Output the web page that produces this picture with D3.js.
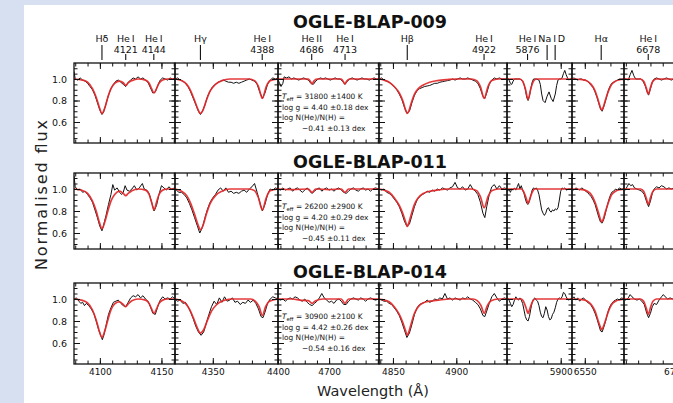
<!DOCTYPE html>
<html>
<head>
<meta charset="utf-8">
<script src="https://cdn.jsdelivr.net/npm/d3@7"></script>
<style>
  html, body { margin: 0; padding: 0; background: #d6e0f1; }
  svg { display: block; }
</style>
</head>
<body>
<svg id="chart" width="673" height="403"></svg>
<script>
// Wavelength window (Å) of each of the seven spectral panels
const windows = [[4079, 4161], [4321, 4400], [4658, 4741], [4839, 4940], [5860.5, 5908.3], [6540, 6580.6], [6658.5, 6720.3]];
// Labelled wavelength ticks in each panel
const majorTicks = [[4100, 4150], [4350, 4400], [4700], [4850, 4900], [5900], [6550], [6700]];
const stars = ["OGLE-BLAP-009", "OGLE-BLAP-011", "OGLE-BLAP-014"];
const teffText = ["31800 \u00b11400 K", "26200 \u00b12900 K", "30900 \u00b12100 K"];
const loggText = ["4.40 \u00b10.18 dex", "4.20 \u00b10.29 dex", "4.42 \u00b10.26 dex"];
const heText = ["\u22120.41 \u00b10.13 dex", "\u22120.45 \u00b10.11 dex", "\u22120.54 \u00b10.16 dex"];
// Identified lines: label, rest wavelength(s), panel, long marker for hydrogen / Na
const lineIds = [
  { name: "H\u03b4", wl: [4101.7], col: 0, long: true },
  { name: "He\u2009I", num: "4121", wl: [4121.0], col: 0 },
  { name: "He\u2009I", num: "4144", wl: [4143.8], col: 0 },
  { name: "H\u03b3", wl: [4340.5], col: 1, long: true },
  { name: "He\u2009I", num: "4388", wl: [4387.9], col: 1 },
  { name: "He\u2009II", num: "4686", wl: [4685.7], col: 2 },
  { name: "He\u2009I", num: "4713", wl: [4713.1], col: 2 },
  { name: "H\u03b2", wl: [4861.3], col: 3, long: true },
  { name: "He\u2009I", num: "4922", wl: [4921.9], col: 3 },
  { name: "He\u2009I", num: "5876", wl: [5875.6], col: 4 },
  { name: "Na\u2009I\u2009D", wl: [5890.0, 5895.9], col: 4, long: true, labelWl: 5893.4 },
  { name: "H\u03b1", wl: [6562.8], col: 5, long: true },
  { name: "He\u2009I", num: "6678", wl: [6678.2], col: 6 }
];

// Observed (black) and model (red) normalised flux, [wavelength, flux] per panel
const obs009 = [
  [[4079,1.07],[4080,1.00],[4082,0.99],[4084,1.01],[4086,0.99],[4088,0.98],[4090,0.96],[4092,0.93],[4094,0.90],[4096,0.85],[4098,0.78],[4100,0.71],[4101.7,0.67],[4103,0.69],[4105,0.77],[4107,0.85],[4109,0.91],[4111,0.95],[4113,0.98],[4115,0.99],[4117,0.97],[4119,0.95],[4121,0.93],[4123,0.97],[4125,0.99],[4127,1.01],[4129,1.00],[4131,1.02],[4133,1.00],[4135,1.01],[4137,0.99],[4139,0.97],[4141,0.92],[4143,0.87],[4145,0.88],[4147,0.94],[4149,0.99],[4151,1.01],[4153,1.00],[4155,0.99],[4157,1.01],[4159,1.00],[4161,1.01]],
  [[4321,1.00],[4323,1.01],[4325,0.99],[4327,0.98],[4329,0.96],[4331,0.93],[4333,0.88],[4335,0.82],[4337,0.76],[4339,0.70],[4340.5,0.67],[4342,0.70],[4344,0.76],[4346,0.84],[4348,0.89],[4350,0.93],[4352,0.95],[4354,0.97],[4356,0.98],[4358,0.99],[4360,0.98],[4362,0.97],[4364,0.97],[4366,0.96],[4368,0.97],[4370,0.96],[4372,0.97],[4374,0.98],[4376,0.99],[4378,1.00],[4380,0.99],[4382,0.98],[4384,0.95],[4386,0.88],[4388,0.82],[4390,0.87],[4392,0.95],[4394,0.99],[4396,1.01],[4398,1.00],[4400,1.01]],
  [[4658,0.99],[4659,0.97],[4660.5,0.93],[4662,0.96],[4663,1.02],[4665,1.01],[4667,1.02],[4669,1.00],[4671,1.01],[4673,1.00],[4675,0.99],[4677,1.00],[4679,1.01],[4681,1.00],[4683,0.99],[4685,0.96],[4687,0.95],[4689,0.98],[4691,1.00],[4693,1.01],[4695,1.00],[4697,1.01],[4699,1.00],[4701,0.99],[4703,1.00],[4705,1.01],[4707,1.00],[4709,1.00],[4711,0.98],[4713,0.95],[4715,0.98],[4717,1.00],[4719,1.01],[4721,1.00],[4723,0.99],[4725,1.00],[4727,1.01],[4729,1.00],[4731,1.00],[4733,0.99],[4735,1.00],[4737,1.01],[4739,1.00],[4741,1.00]],
  [[4839,1.00],[4841,1.01],[4843,0.99],[4845,0.98],[4847,0.97],[4849,0.95],[4851,0.93],[4853,0.90],[4855,0.86],[4857,0.81],[4859,0.74],[4861,0.68],[4863,0.70],[4865,0.78],[4867,0.85],[4869,0.89],[4871,0.91],[4873,0.92],[4875,0.93],[4877,0.935],[4879,0.94],[4881,0.95],[4883,0.96],[4885,0.96],[4887,0.97],[4889,0.975],[4891,0.98],[4893,0.985],[4895,0.99],[4897,1.00],[4899,0.99],[4901,1.00],[4903,1.01],[4905,1.00],[4907,1.00],[4909,1.01],[4911,1.00],[4913,0.99],[4915,0.98],[4917,0.96],[4919,0.91],[4921,0.84],[4922.5,0.82],[4924,0.87],[4926,0.95],[4928,0.99],[4930,1.01],[4932,1.00],[4934,1.01],[4936,1.00],[4938,1.00],[4940,1.00]],
  [[5860,1.00],[5861,1.01],[5862,0.99],[5863,0.96],[5864,0.95],[5865,0.98],[5866,1.00],[5868,1.00],[5870,1.00],[5872,0.98],[5873,0.95],[5874,0.90],[5875,0.83],[5876,0.80],[5877,0.84],[5878,0.91],[5879,0.97],[5880,1.00],[5882,1.00],[5884,0.99],[5885,0.95],[5886,0.86],[5887,0.80],[5888.5,0.78],[5890,0.84],[5891.4,0.88],[5893,0.82],[5894.4,0.79],[5896,0.86],[5897,0.94],[5898,0.99],[5899,1.00],[5900,1.00],[5901,1.01],[5902,1.05],[5903,1.08],[5904,1.04],[5905,1.01],[5906,0.99],[5907,1.00],[5909,1.00]],
  [[6540,1.00],[6541.5,1.01],[6543,1.00],[6544.5,0.99],[6546,1.00],[6547.5,1.00],[6549,0.99],[6550.5,0.99],[6552,0.98],[6553.5,0.96],[6555,0.94],[6556.5,0.92],[6558,0.88],[6559.5,0.83],[6561,0.77],[6562.3,0.72],[6563.5,0.70],[6565,0.75],[6566.5,0.81],[6568,0.88],[6569.5,0.93],[6571,0.96],[6572.5,0.97],[6574,0.98],[6575.5,0.99],[6577,1.00],[6578.5,1.00],[6581,1.00]],
  [[6658,1.00],[6660,1.00],[6662,0.99],[6663.5,1.04],[6665,1.08],[6666.5,1.03],[6668,1.00],[6670,1.00],[6672,1.00],[6674,0.98],[6676,0.93],[6677.3,0.88],[6678.5,0.85],[6680,0.91],[6681.5,0.97],[6683,1.00],[6685,1.01],[6687,1.00],[6689,0.99],[6691,1.00],[6693,1.01],[6695,1.00],[6697,0.99],[6699,1.00],[6701,1.00],[6703,1.00],[6705,1.00]]
];
const model009 = [
  [[4079,1.00],[4086,0.99],[4090,0.97],[4094,0.91],[4097,0.83],[4099.5,0.74],[4101.7,0.68],[4104,0.73],[4106.5,0.83],[4109,0.91],[4112,0.96],[4116,0.98],[4119,0.965],[4121,0.94],[4123,0.965],[4126,0.985],[4131,1.00],[4137,0.99],[4140,0.96],[4142,0.91],[4144,0.87],[4146,0.91],[4148,0.96],[4151,0.99],[4155,1.00],[4161,1.00]],
  [[4321,1.00],[4326,0.985],[4330,0.95],[4333,0.89],[4336,0.80],[4338.5,0.72],[4340.5,0.68],[4342.5,0.71],[4345,0.80],[4348,0.89],[4352,0.95],[4357,0.985],[4363,1.00],[4378,1.00],[4382,0.985],[4385,0.93],[4388,0.82],[4391,0.93],[4394,0.985],[4400,1.00]],
  [[4658,1.00],[4683,1.00],[4684.5,0.98],[4686,0.955],[4687.5,0.98],[4690,1.00],[4710,1.00],[4711.5,0.98],[4713,0.955],[4714.5,0.98],[4717,1.00],[4741,1.00]],
  [[4839,1.00],[4843,0.99],[4847,0.97],[4851,0.93],[4855,0.87],[4858,0.79],[4860,0.71],[4861.3,0.68],[4862.5,0.70],[4864.5,0.78],[4867,0.86],[4870,0.91],[4874,0.945],[4879,0.97],[4885,0.985],[4893,0.995],[4900,1.00],[4912,1.00],[4916,0.985],[4919,0.93],[4922,0.82],[4925,0.93],[4928,0.985],[4933,1.00],[4940,1.00]],
  [[5860,1.00],[5870,1.00],[5872,0.98],[5874,0.91],[5876,0.81],[5878,0.91],[5880,0.98],[5882,1.00],[5909,1.00]],
  [[6540,1.00],[6548,0.995],[6552,0.98],[6555,0.95],[6558,0.89],[6560.5,0.80],[6562,0.74],[6563.2,0.71],[6564.5,0.74],[6566,0.80],[6568.5,0.89],[6571,0.95],[6574,0.98],[6578,0.995],[6581,1.00]],
  [[6658,1.00],[6672,1.00],[6674.5,0.98],[6676.5,0.92],[6678.3,0.86],[6680,0.92],[6682,0.98],[6685,1.00],[6721,1.00]]
];
const obs011 = [
  [[4079,1.12],[4080,1.02],[4082,0.99],[4084,1.00],[4086,0.97],[4088,0.98],[4090,0.95],[4092,0.92],[4094,0.88],[4096,0.81],[4098,0.74],[4100,0.66],[4101.7,0.62],[4103,0.67],[4105,0.76],[4107,0.86],[4109,0.95],[4110.5,1.04],[4112,0.99],[4114,1.01],[4116,0.97],[4117.7,0.95],[4119,0.97],[4120.5,1.03],[4122,0.99],[4124,0.98],[4126,1.00],[4128,1.03],[4130,0.99],[4132,1.01],[4134.5,1.05],[4136,1.00],[4138,0.99],[4140,0.96],[4142,0.88],[4144,0.80],[4146,0.85],[4148,0.95],[4150,1.03],[4152,1.01],[4154,0.99],[4156,1.02],[4158,1.00],[4161,1.01]],
  [[4321,1.00],[4322,0.99],[4324,0.97],[4326,0.97],[4328,0.95],[4330,0.92],[4332,0.87],[4334,0.81],[4336,0.74],[4338,0.67],[4340,0.60],[4342,0.65],[4344,0.74],[4346,0.82],[4348,0.88],[4350,0.92],[4352,0.95],[4354,0.99],[4356,1.01],[4358,0.98],[4360,1.01],[4362,0.97],[4364,0.98],[4366,0.96],[4368,0.97],[4370,0.96],[4372,0.98],[4374,0.99],[4376,0.97],[4378,1.00],[4380,1.02],[4382,1.05],[4384,0.97],[4386,0.88],[4388,0.80],[4390,0.86],[4392,0.95],[4394,1.00],[4396,0.99],[4398,1.01],[4400,1.00]],
  [[4658,1.00],[4660,0.99],[4662,1.01],[4664,0.99],[4666,1.00],[4668,1.01],[4670,0.98],[4672,1.00],[4674,1.01],[4676,0.99],[4678,0.97],[4680,0.99],[4682,1.01],[4684,0.98],[4686,0.96],[4688,0.98],[4690,1.00],[4692,1.01],[4694,0.98],[4696,1.00],[4698,1.01],[4700,0.99],[4702,1.00],[4704,0.98],[4706,1.00],[4708,1.01],[4710,0.99],[4712,0.97],[4714,0.96],[4716,0.98],[4718,1.00],[4720,1.01],[4722,0.99],[4724,0.98],[4726,1.00],[4728,1.01],[4730,0.99],[4732,1.00],[4734,0.98],[4736,1.00],[4738,1.01],[4741,1.00]],
  [[4839,1.00],[4841,0.99],[4843,1.00],[4845,0.97],[4847,0.96],[4849,0.94],[4851,0.91],[4853,0.88],[4855,0.84],[4857,0.78],[4859,0.71],[4861,0.66],[4863,0.68],[4865,0.76],[4867,0.84],[4869,0.90],[4871,0.93],[4873,0.95],[4875,0.96],[4877,0.98],[4879,0.97],[4881,0.99],[4883,0.98],[4885,1.00],[4887,0.99],[4889,1.01],[4891,1.00],[4893,0.99],[4895,1.01],[4897,1.02],[4899,1.06],[4901,1.01],[4903,1.00],[4905,1.02],[4907,0.99],[4909,1.00],[4911,1.04],[4913,1.00],[4915,0.98],[4917,0.95],[4919,0.88],[4921,0.78],[4922.5,0.74],[4924,0.84],[4926,0.95],[4928,1.02],[4930,1.04],[4932,1.00],[4934,1.03],[4936,1.00],[4938,1.01],[4940,1.00]],
  [[5860,1.00],[5861,0.98],[5862,1.00],[5863,0.97],[5864,1.00],[5865,0.99],[5866,1.01],[5867,0.99],[5868,1.02],[5869,1.05],[5870,1.00],[5871,1.03],[5872,0.99],[5873,0.96],[5874,0.91],[5875,0.87],[5876,0.86],[5877,0.89],[5878,0.94],[5879,0.99],[5880,1.01],[5881,1.00],[5882,1.01],[5883,0.99],[5884,0.95],[5885,0.88],[5886,0.81],[5887,0.78],[5888,0.76],[5889,0.78],[5890,0.82],[5891,0.83],[5892,0.80],[5893,0.79],[5894,0.81],[5895,0.80],[5896,0.82],[5897,0.81],[5898,0.83],[5899,0.90],[5900,0.98],[5901,1.01],[5902,1.00],[5903,1.01],[5904,0.99],[5906,1.00],[5909,1.00]],
  [[6540,1.00],[6541.5,0.99],[6543,1.01],[6544.5,1.00],[6546,0.99],[6547.5,1.01],[6549,1.00],[6550.5,0.98],[6552,0.97],[6553.5,0.95],[6555,0.93],[6556.5,0.90],[6558,0.86],[6559.5,0.80],[6561,0.74],[6562.3,0.70],[6563.5,0.69],[6565,0.73],[6566.5,0.80],[6568,0.87],[6569.5,0.93],[6571,0.97],[6572.5,0.98],[6574,1.00],[6575.5,0.99],[6577,1.01],[6578.5,1.00],[6581,1.00]],
  [[6658,1.00],[6659.5,0.99],[6661,1.02],[6662.5,1.05],[6664,1.03],[6665.5,1.04],[6667,1.01],[6669,1.00],[6671,0.99],[6673,0.98],[6675,0.95],[6677,0.88],[6678.5,0.84],[6680,0.89],[6681.5,0.96],[6683,1.00],[6685,1.02],[6687,1.01],[6689,1.03],[6691,1.02],[6693,1.00],[6695,1.01],[6697,1.00],[6699,1.01],[6701,1.00],[6704,1.00]]
];
const model011 = [
  [[4079,1.00],[4085,0.99],[4090,0.96],[4094,0.89],[4097,0.80],[4099.5,0.70],[4101.7,0.64],[4104,0.70],[4106.5,0.80],[4109,0.89],[4112,0.95],[4116,0.98],[4119,0.96],[4121,0.94],[4123,0.96],[4126,0.985],[4131,1.00],[4137,0.99],[4140,0.95],[4142,0.88],[4144,0.81],[4146,0.88],[4148,0.95],[4151,0.99],[4155,1.00],[4161,1.00]],
  [[4321,1.00],[4326,0.98],[4330,0.94],[4333,0.87],[4336,0.77],[4338.5,0.68],[4340.5,0.63],[4342.5,0.67],[4345,0.77],[4348,0.87],[4352,0.94],[4357,0.98],[4363,1.00],[4378,1.00],[4382,0.985],[4385,0.92],[4388,0.81],[4391,0.92],[4394,0.985],[4400,1.00]],
  [[4658,1.00],[4670,0.995],[4683,1.00],[4686,0.97],[4689,1.00],[4700,0.995],[4710,1.00],[4713,0.97],[4716,1.00],[4741,1.00]],
  [[4839,1.00],[4843,0.99],[4847,0.97],[4851,0.92],[4855,0.85],[4858,0.77],[4860,0.70],[4861.3,0.66],[4862.5,0.69],[4864.5,0.77],[4867,0.86],[4870,0.92],[4874,0.96],[4879,0.98],[4885,0.99],[4893,1.00],[4912,1.00],[4916,0.985],[4919,0.93],[4922,0.83],[4925,0.93],[4928,0.985],[4933,1.00],[4940,1.00]],
  [[5860,1.00],[5871,1.00],[5873,0.97],[5874.5,0.92],[5876,0.87],[5877.5,0.92],[5879,0.97],[5881,1.00],[5909,1.00]],
  [[6540,1.00],[6548,0.995],[6552,0.98],[6555,0.95],[6558,0.88],[6560.5,0.79],[6562,0.73],[6563.2,0.70],[6564.5,0.73],[6566,0.79],[6568.5,0.88],[6571,0.95],[6574,0.98],[6578,0.995],[6581,1.00]],
  [[6658,1.00],[6672,1.00],[6674.5,0.98],[6676.5,0.92],[6678.3,0.86],[6680,0.92],[6682,0.98],[6685,1.00],[6721,1.00]]
];
const obs014 = [
  [[4079,1.00],[4081,1.01],[4083,0.98],[4084.5,0.96],[4086,0.97],[4087.5,0.94],[4089,0.96],[4091,0.94],[4093,0.91],[4095,0.87],[4097,0.80],[4099,0.72],[4101,0.66],[4102,0.63],[4103.5,0.68],[4105,0.76],[4107,0.86],[4109,0.92],[4111,0.97],[4113,0.98],[4115,0.99],[4117,0.96],[4119,0.94],[4121,0.93],[4123,0.97],[4125,1.01],[4127,1.03],[4129,1.02],[4131,1.04],[4133,1.01],[4135,1.03],[4137,1.00],[4139,0.98],[4141,0.93],[4143,0.87],[4145,0.86],[4147,0.93],[4149,0.99],[4151,1.02],[4153,1.00],[4155,1.01],[4157,1.00],[4159,1.02],[4161,1.00]],
  [[4321,1.00],[4323,0.98],[4325,0.99],[4327,0.96],[4329,0.97],[4331,0.93],[4333,0.88],[4335,0.82],[4337,0.75],[4339,0.70],[4341,0.67],[4343,0.70],[4345,0.78],[4347,0.86],[4349,0.93],[4351,0.98],[4353,0.95],[4355,1.01],[4357,0.97],[4359,1.02],[4361,0.98],[4363,0.99],[4365,1.01],[4367,0.97],[4369,0.98],[4371,0.95],[4373,0.97],[4375,0.96],[4377,0.99],[4379,0.97],[4381,0.99],[4383,0.96],[4385,0.91],[4387,0.84],[4388.5,0.83],[4390,0.88],[4392,0.96],[4394,1.00],[4396,1.02],[4398,1.01],[4400,1.00]],
  [[4658,1.00],[4660,0.99],[4662,1.00],[4664,0.98],[4666,1.00],[4668,1.01],[4670,1.00],[4672,1.02],[4674,1.01],[4676,0.99],[4678,0.98],[4680,1.00],[4682,0.97],[4684,0.95],[4686,0.94],[4688,0.96],[4690,0.98],[4692,1.01],[4694,1.05],[4696,1.01],[4698,0.99],[4700,0.97],[4702,0.98],[4704,0.96],[4706,0.99],[4708,1.00],[4710,0.98],[4712,0.95],[4714,0.95],[4716,0.98],[4718,1.00],[4720,1.01],[4722,1.00],[4724,0.99],[4726,1.01],[4728,1.00],[4730,0.98],[4732,1.00],[4734,1.01],[4736,1.00],[4738,0.99],[4741,1.00]],
  [[4839,1.00],[4841,0.99],[4843,0.98],[4845,0.98],[4847,0.96],[4849,0.95],[4851,0.92],[4853,0.89],[4855,0.85],[4857,0.79],[4859,0.72],[4861,0.65],[4863,0.69],[4865,0.77],[4867,0.86],[4869,0.92],[4871,0.95],[4873,0.96],[4875,0.97],[4877,0.99],[4879,0.97],[4881,0.98],[4883,1.00],[4885,0.99],[4887,1.01],[4889,1.00],[4891,1.05],[4893,1.00],[4895,1.01],[4897,0.99],[4899,1.01],[4901,1.00],[4903,0.99],[4905,1.01],[4907,1.00],[4909,1.02],[4911,1.00],[4913,0.99],[4915,0.97],[4917,0.95],[4919,0.91],[4921,0.85],[4922.5,0.84],[4924,0.89],[4926,0.96],[4928,1.02],[4930,1.05],[4932,1.01],[4934,0.98],[4936,1.00],[4938,1.01],[4940,1.00]],
  [[5860,1.00],[5861,1.01],[5862,0.99],[5863,0.96],[5864,0.93],[5865,0.95],[5866,0.99],[5867,1.02],[5868,1.00],[5869,0.99],[5870,1.01],[5871,0.99],[5872,0.96],[5873,0.90],[5874,0.84],[5875,0.81],[5876,0.80],[5877,0.84],[5878,0.91],[5879,0.97],[5880,1.00],[5881,1.01],[5882,0.99],[5883,0.98],[5884,0.94],[5885,0.88],[5886,0.84],[5887,0.83],[5888,0.87],[5889,0.93],[5890,0.90],[5891,0.84],[5892,0.81],[5893,0.82],[5894,0.86],[5895,0.88],[5896,0.92],[5897,0.97],[5898,1.00],[5899,1.01],[5900,1.00],[5901,1.02],[5902,1.06],[5903,1.05],[5904,1.02],[5905,1.00],[5906,0.99],[5907,1.00],[5909,1.00]],
  [[6540,1.00],[6541.5,1.02],[6543,0.99],[6544.5,1.01],[6546,0.98],[6547.5,1.00],[6549,1.01],[6550.5,0.99],[6552,0.97],[6553.5,0.96],[6555,0.94],[6556.5,0.91],[6558,0.87],[6559.5,0.82],[6561,0.76],[6562.3,0.71],[6563.5,0.70],[6565,0.75],[6566.5,0.81],[6568,0.88],[6569.5,0.93],[6571,0.96],[6572.5,0.98],[6574,0.99],[6575.5,1.00],[6577,0.99],[6578.5,1.01],[6581,1.00]],
  [[6658,1.00],[6660,0.99],[6662,1.01],[6663.5,1.04],[6665,1.02],[6667,1.00],[6669,0.99],[6671,1.00],[6673,0.98],[6675,0.95],[6677,0.87],[6678.5,0.83],[6680,0.87],[6681.5,0.93],[6683,0.96],[6685,0.95],[6687,0.99],[6689,1.02],[6690.5,1.04],[6692,1.02],[6694,1.00],[6696,1.01],[6698,1.00],[6700,0.99],[6702,1.00],[6705,1.00]]
];
const model014 = [
  [[4079,1.00],[4085,0.99],[4090,0.965],[4094,0.90],[4097,0.81],[4099.5,0.71],[4101.7,0.65],[4104,0.71],[4106.5,0.81],[4109,0.90],[4112,0.955],[4116,0.975],[4119,0.95],[4121,0.93],[4123,0.955],[4126,0.985],[4131,1.00],[4137,0.99],[4140,0.96],[4142,0.91],[4144,0.87],[4146,0.91],[4148,0.96],[4151,0.99],[4155,1.00],[4161,1.00]],
  [[4321,1.00],[4326,0.985],[4329,0.96],[4332,0.91],[4335,0.83],[4338,0.74],[4340.5,0.69],[4343,0.72],[4346,0.81],[4349,0.89],[4353,0.95],[4358,0.985],[4364,1.00],[4379,1.00],[4382.5,0.98],[4385.5,0.93],[4388,0.85],[4390.5,0.93],[4393.5,0.98],[4400,1.00]],
  [[4658,1.00],[4670,1.00],[4676,0.99],[4683,0.985],[4686,0.96],[4689,0.985],[4695,1.00],[4710,1.00],[4713,0.96],[4716,1.00],[4741,1.00]],
  [[4839,1.00],[4843,0.99],[4847,0.975],[4851,0.93],[4855,0.86],[4858,0.78],[4860,0.71],[4861.3,0.67],[4862.5,0.70],[4864.5,0.78],[4867,0.87],[4870,0.93],[4874,0.965],[4879,0.98],[4886,0.99],[4895,1.00],[4913,1.00],[4916.5,0.985],[4919.5,0.94],[4922,0.87],[4924.5,0.94],[4927.5,0.985],[4933,1.00],[4940,1.00]],
  [[5860,1.00],[5871,1.00],[5873,0.97],[5874.5,0.92],[5876,0.87],[5877.5,0.92],[5879,0.97],[5881,1.00],[5909,1.00]],
  [[6540,1.00],[6548,0.995],[6552,0.98],[6555,0.95],[6558,0.89],[6560.5,0.80],[6562,0.75],[6563.2,0.72],[6564.5,0.75],[6566,0.80],[6568.5,0.89],[6571,0.95],[6574,0.98],[6578,0.995],[6581,1.00]],
  [[6658,1.00],[6672,1.00],[6674.5,0.98],[6676.5,0.92],[6678.3,0.86],[6680,0.92],[6682,0.98],[6685,1.00],[6721,1.00]]
];
const observed = [obs009, obs011, obs014];
const models = [model009, model011, model014];

// ---- layout ----
const colEdges = [74, 175, 278, 379, 507, 572, 624, 700];
// per row: top / bottom of panels, pixel of flux 1.0, pixels per unit flux
const rows = [
  { top: 63, bottom: 143, y1: 79, k: 107.5, title: 28 },
  { top: 173, bottom: 249, y1: 189, k: 110, title: 168 },
  { top: 283, bottom: 364, y1: 299, k: 110, title: 278 }
];
const RED = "#e3292b";
const FONT = "DejaVu Sans, Liberation Sans, sans-serif";

const svg = d3.select("#chart");
svg.append("rect").attr("x", 24).attr("y", 5).attr("width", 649).attr("height", 398).attr("fill", "#ffffff");
const defs = svg.append("defs");

const xScales = windows.map((w, i) => d3.scaleLinear().domain(w).range([colEdges[i], colEdges[i + 1]]));

rows.forEach((r, ri) => {
  const fTop = 1 + (r.y1 - r.top) / r.k;
  const fBot = 1 - (r.bottom - r.y1) / r.k;
  const y = d3.scaleLinear().domain([fBot, fTop]).range([r.bottom, r.top]);
  const yMinor = d3.range(Math.ceil(fBot * 20), Math.floor(fTop * 20) + 1).map(v => v / 20);
  const yMajor = yMinor.filter(v => v > 0.5 && Math.abs(v * 5 - Math.round(v * 5)) < 1e-6);
  const row = svg.append("g");

  row.append("text")
    .attr("x", 370).attr("y", r.title)
    .attr("text-anchor", "middle")
    .attr("font-family", FONT).attr("font-weight", "bold").attr("font-size", 17.5)
    .attr("fill", "#111")
    .text(stars[ri]);

  windows.forEach((w, ci) => {
    const x = xScales[ci];
    const x0 = colEdges[ci], x1 = colEdges[ci + 1];
    const clipId = `clip-${ri}-${ci}`;
    defs.append("clipPath").attr("id", clipId)
      .append("rect").attr("x", x0).attr("y", r.top).attr("width", x1 - x0).attr("height", r.bottom - r.top);
    const panel = row.append("g");
    const plot = panel.append("g").attr("clip-path", `url(#${clipId})`);

    plot.append("path").datum(observed[ri][ci])
      .attr("fill", "none").attr("stroke", "#111").attr("stroke-width", 1)
      .attr("stroke-linejoin", "round")
      .attr("d", d3.line().x(d => x(d[0])).y(d => y(d[1])));
    plot.append("path").datum(models[ri][ci])
      .attr("fill", "none").attr("stroke", RED).attr("stroke-width", 1.7).attr("stroke-opacity", 0.92)
      .attr("d", d3.line().curve(d3.curveMonotoneX).x(d => x(d[0])).y(d => y(d[1])));

    // wavelength ticks, pointing into the panel
    const xMinor = d3.range(Math.ceil(w[0] / 10) * 10, w[1] + 1e-9, 10);
    [[d3.axisBottom, r.bottom], [d3.axisTop, r.top]].forEach(([mk, yy]) => {
      panel.append("g").attr("transform", `translate(0,${yy})`)
        .call(mk(x).tickValues(xMinor).tickSize(-3.5).tickFormat(""))
        .call(g => g.select(".domain").remove());
    });
    const bottomMajor = panel.append("g").attr("transform", `translate(0,${r.bottom})`)
      .call(d3.axisBottom(x).tickValues(majorTicks[ci]).tickSize(-6).tickPadding(5)
        .tickFormat(ri === rows.length - 1 ? d3.format("d") : ""))
      .call(g => g.select(".domain").remove());
    bottomMajor.selectAll("text").attr("font-family", FONT).attr("font-size", 9).attr("fill", "#111");
    panel.append("g").attr("transform", `translate(0,${r.top})`)
      .call(d3.axisTop(x).tickValues(majorTicks[ci]).tickSize(-6).tickFormat(""))
      .call(g => g.select(".domain").remove());

    // flux ticks on both sides
    panel.append("g").attr("transform", `translate(${x0},0)`)
      .call(d3.axisLeft(y).tickValues(yMinor).tickSize(-3.5).tickFormat(""))
      .call(g => g.select(".domain").remove());
    panel.append("g").attr("transform", `translate(${x1},0)`)
      .call(d3.axisRight(y).tickValues(yMinor).tickSize(-3.5).tickFormat(""))
      .call(g => g.select(".domain").remove());
    const leftMajor = panel.append("g").attr("transform", `translate(${x0},0)`)
      .call(d3.axisLeft(y).tickValues(yMajor).tickSize(-6).tickPadding(7)
        .tickFormat(ci === 0 ? d3.format(".1f") : ""))
      .call(g => g.select(".domain").remove());
    leftMajor.selectAll("text").attr("font-family", FONT).attr("font-size", 9.5).attr("fill", "#111");
    panel.append("g").attr("transform", `translate(${x1},0)`)
      .call(d3.axisRight(y).tickValues(yMajor).tickSize(-6).tickFormat(""))
      .call(g => g.select(".domain").remove());

    panel.selectAll(".tick line").attr("stroke", "#111").attr("stroke-width", 1);

    panel.append("rect")
      .attr("x", x0).attr("y", r.top).attr("width", x1 - x0).attr("height", r.bottom - r.top)
      .attr("fill", "none").attr("stroke", "#111").attr("stroke-width", 1.3);
  });

  // atmospheric parameters written inside the He II panel
  const bx = colEdges[2] + 4;
  const tb = row.append("g").attr("font-family", FONT).attr("font-size", 7.4).attr("fill", "#111");
  const t1 = tb.append("text").attr("x", bx).attr("y", r.y1 + 20);
  t1.append("tspan").attr("font-style", "italic").text("T");
  t1.append("tspan").attr("font-size", 5.4).attr("dy", 1.5).text("eff");
  t1.append("tspan").attr("dy", -1.5).text(" = " + teffText[ri]);
  tb.append("text").attr("x", bx).attr("y", r.y1 + 30.5).text("log g = " + loggText[ri]);
  tb.append("text").attr("x", bx).attr("y", r.y1 + 41).text("log N(He)/N(H) =");
  tb.append("text").attr("x", bx + 20).attr("y", r.y1 + 51.5).text(heText[ri]);
});

// line identifications above the first row
const idG = svg.append("g").attr("font-family", FONT).attr("fill", "#111");
lineIds.forEach(l => {
  const x = xScales[l.col];
  const lx = x(l.labelWl !== undefined ? l.labelWl : l.wl[0]);
  idG.append("text").attr("x", lx).attr("y", 42).attr("text-anchor", "middle")
    .attr("font-size", 9.5).text(l.name);
  if (l.num) {
    idG.append("text").attr("x", lx).attr("y", 52.5).attr("text-anchor", "middle")
      .attr("font-size", 9.5).text(l.num);
  }
  l.wl.forEach(wl => {
    idG.append("line")
      .attr("x1", x(wl)).attr("x2", x(wl))
      .attr("y1", l.long ? 45 : 54).attr("y2", 60)
      .attr("stroke", "#111").attr("stroke-width", 1.1);
  });
});

// axis titles
svg.append("text")
  .attr("transform", "translate(47,195) rotate(-90)")
  .attr("text-anchor", "middle")
  .attr("font-family", FONT).attr("font-size", 16).attr("fill", "#222")
  .attr("textLength", 150).attr("lengthAdjust", "spacing")
  .text("Normalised flux");
svg.append("text")
  .attr("x", 373).attr("y", 396)
  .attr("text-anchor", "middle")
  .attr("font-family", FONT).attr("font-size", 14.5).attr("fill", "#222")
  .text("Wavelength (\u00c5)");
</script>
</body>
</html>
